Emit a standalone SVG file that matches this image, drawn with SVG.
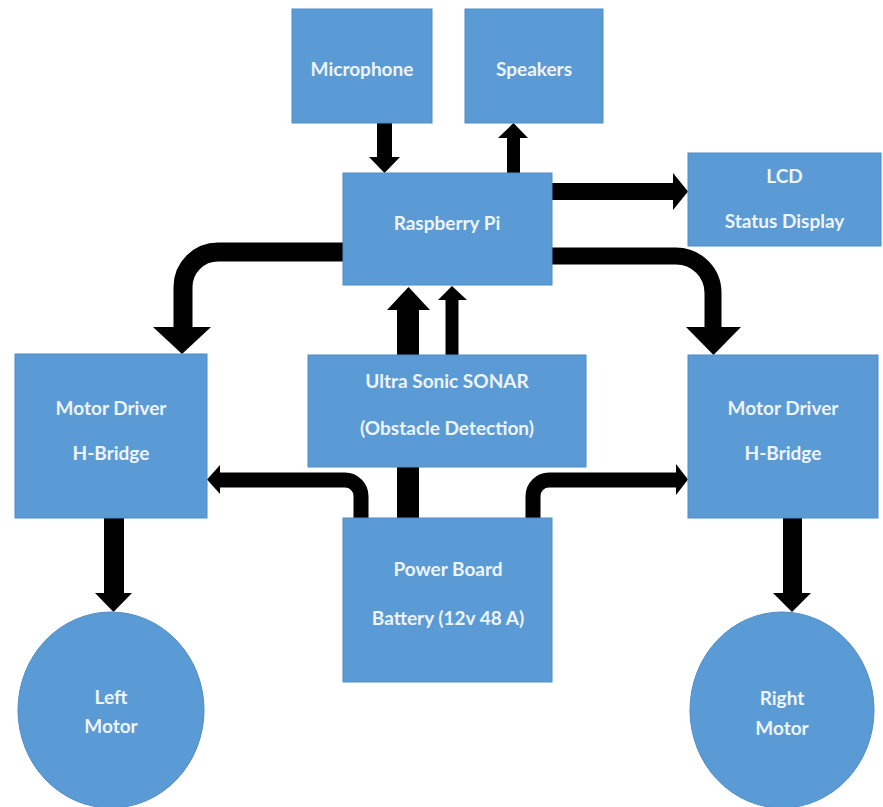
<svg xmlns="http://www.w3.org/2000/svg" width="883" height="807" viewBox="0 0 883 807">
<style>
.box{fill:#5b9bd5;stroke:#4f8cc6;stroke-width:1}
.t{font-family:Lato,"Open Sans",sans-serif;font-weight:bold;font-size:19px;fill:#eef4fb;text-anchor:middle;dominant-baseline:central}
.w{fill:none;stroke:#000}
.h{fill:#000}
</style>
<rect width="883" height="807" fill="#fff"/>
<g id="connectors">
  <line class="w" x1="384.5" y1="123" x2="384.5" y2="160" stroke-width="15"/>
  <polygon class="h" points="369,157 400,157 384.5,173"/>
  <line class="w" x1="513.5" y1="173" x2="513.5" y2="136" stroke-width="13"/>
  <polygon class="h" points="498,138 528,138 513.5,123"/>
  <line class="w" x1="552" y1="191.5" x2="675" y2="191.5" stroke-width="17"/>
  <polygon class="h" points="673,173 673,210 688,191.5"/>
  <path class="w" d="M552 256 H676 A37 37 0 0 1 713 293 V330" stroke-width="17"/>
  <polygon class="h" points="686,327 741,327 713.5,355"/>
  <path class="w" d="M343 252 H218 A35 35 0 0 0 183 287 V330" stroke-width="19"/>
  <polygon class="h" points="153,327 211,327 182,354"/>
  <line class="w" x1="408" y1="518" x2="408" y2="308" stroke-width="22"/>
  <polygon class="h" points="387,310 430,310 408.5,287"/>
  <line class="w" x1="452" y1="355" x2="452" y2="298" stroke-width="13"/>
  <polygon class="h" points="438,300 467,300 452,286"/>
  <path class="w" d="M361 518 V496 A16 16 0 0 0 345 480 H218" stroke-width="15"/>
  <polygon class="h" points="220,465 220,494 207,479.5"/>
  <path class="w" d="M533 518 V496 A16 16 0 0 1 549 480 H678" stroke-width="15"/>
  <polygon class="h" points="676,464 676,495 688,479.5"/>
  <line class="w" x1="114" y1="518" x2="114" y2="596" stroke-width="20"/>
  <polygon class="h" points="95,593 132,593 113.5,612"/>
  <line class="w" x1="792.5" y1="518" x2="792.5" y2="596" stroke-width="19"/>
  <polygon class="h" points="773,593 811,593 792,612"/>
</g>
<g id="microphone"><rect class="box" x="292" y="9" width="140" height="114"/><text class="t" x="362" y="68">Microphone</text></g>
<g id="speakers"><rect class="box" x="465" y="9" width="138" height="114"/><text class="t" x="534" y="68">Speakers</text></g>
<g id="raspberry-pi"><rect class="box" x="343" y="173" width="209" height="112"/><text class="t" x="447" y="222">Raspberry Pi</text></g>
<g id="lcd"><rect class="box" x="688" y="153" width="193" height="93"/><text class="t" x="784.5" y="175">LCD</text><text class="t" x="784.5" y="220">Status Display</text></g>
<g id="motor-driver-left"><rect class="box" x="15" y="354" width="192" height="164"/><text class="t" x="111" y="407">Motor Driver</text><text class="t" x="111" y="452">H-Bridge</text></g>
<g id="sonar"><rect class="box" x="308" y="355" width="278" height="112"/><text class="t" x="447" y="380">Ultra Sonic SONAR</text><text class="t" x="447" y="427">(Obstacle Detection)</text></g>
<g id="motor-driver-right"><rect class="box" x="688" y="355" width="190" height="163"/><text class="t" x="783" y="407">Motor Driver</text><text class="t" x="783" y="452">H-Bridge</text></g>
<g id="power-board"><rect class="box" x="343" y="518" width="209" height="164"/><text class="t" x="448" y="568">Power Board</text><text class="t" x="448" y="617">Battery (12v 48 A)</text></g>
<g id="left-motor"><ellipse class="box" cx="111" cy="710" rx="93" ry="98"/><text class="t" x="111" y="696">Left</text><text class="t" x="111" y="725">Motor</text></g>
<g id="right-motor"><ellipse class="box" cx="782" cy="710" rx="92" ry="98"/><text class="t" x="782" y="697">Right</text><text class="t" x="782" y="727">Motor</text></g>
</svg>
